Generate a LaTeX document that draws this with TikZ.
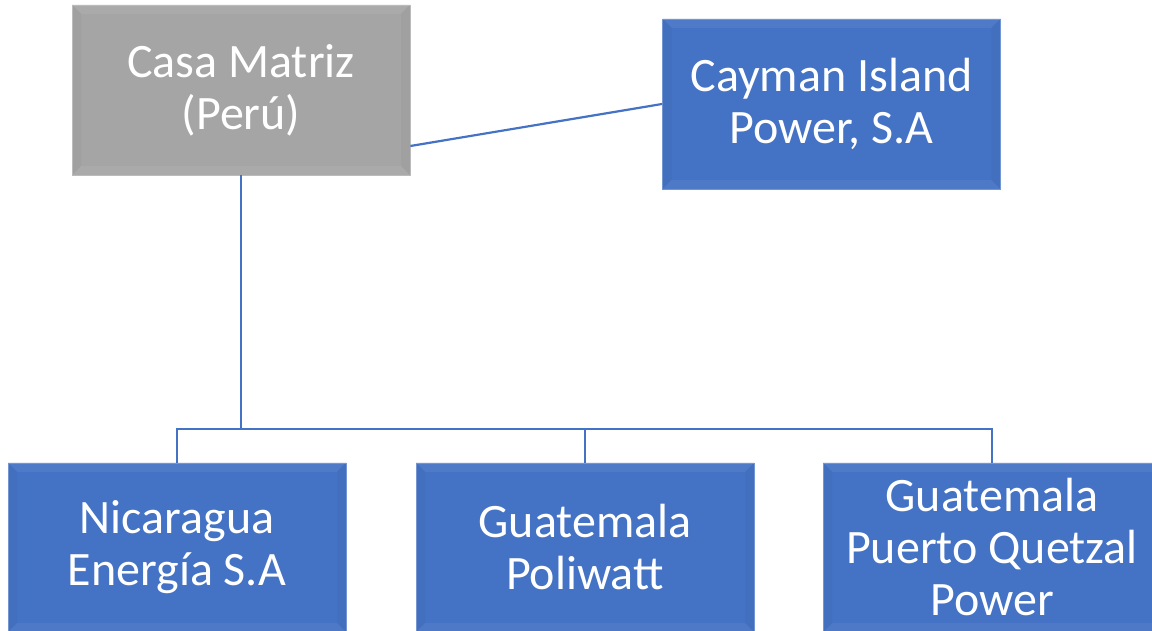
\documentclass[tikz,border=0pt]{standalone}
\usepackage{fontspec}
\setmainfont{Carlito}
\definecolor{accentblue}{HTML}{4472C4}
\definecolor{accentgray}{HTML}{A5A5A5}
\begin{document}
\begin{tikzpicture}[x=1pt,y=1pt,
  % beveled box: faint light strips on top and bottom, slightly darker sides
  bevelbox/.style={rectangle, inner sep=0pt, minimum width=338pt, minimum height=169pt,
    fill=#1, draw=#1!75!white, line width=0.8pt, text=white, align=center,
    font=\fontsize{48}{52}\selectfont,
    path picture={
      \fill[#1!94!white]
        (path picture bounding box.north west) -- (path picture bounding box.north east)
        -- ([xshift=-9pt,yshift=-9pt]path picture bounding box.north east)
        -- ([xshift=9pt,yshift=-9pt]path picture bounding box.north west) -- cycle;
      \fill[#1!95!white]
        (path picture bounding box.south west) -- (path picture bounding box.south east)
        -- ([xshift=-9pt,yshift=9pt]path picture bounding box.south east)
        -- ([xshift=9pt,yshift=9pt]path picture bounding box.south west) -- cycle;
      \fill[#1!97!black]
        (path picture bounding box.north west) -- ([xshift=9pt,yshift=-9pt]path picture bounding box.north west)
        -- ([xshift=9pt,yshift=9pt]path picture bounding box.south west)
        -- (path picture bounding box.south west) -- cycle;
      \fill[#1!97!black]
        (path picture bounding box.north east) -- ([xshift=-9pt,yshift=-9pt]path picture bounding box.north east)
        -- ([xshift=-9pt,yshift=9pt]path picture bounding box.south east)
        -- (path picture bounding box.south east) -- cycle;
    }},
  conn/.style={draw=accentblue, line width=2.2pt}]
\useasboundingbox (0,0) rectangle (1152,631);

\node[bevelbox=accentgray, minimum height=170pt] (casa) at (241,541) {Casa Matriz\\(Perú)};
\node[bevelbox=accentblue, minimum height=170pt] (cayman) at (831.5,527) {Cayman Island\\Power, S.A};
\node[bevelbox=accentblue] (nic) at (177,83.5) {Nicaragua\\Energía S.A};
\node[bevelbox=accentblue] (poli) at (585,83.5) {Guatemala\\Poliwatt};
\node[bevelbox=accentblue] (quetz) at (992,83.5) {Guatemala\\Puerto Quetzal\\Power};

% branch bus level
\coordinate (bus) at (241,202);

\draw[conn] ([yshift=-56pt]casa.east) -- (cayman.west);
\draw[conn] (casa.south) -- (casa.south |- bus);
\draw[conn] (nic.north) -- (nic.north |- bus) -- (quetz.north |- bus) -- (quetz.north);
\draw[conn] (poli.north) -- (poli.north |- bus);
\end{tikzpicture}
\end{document}
